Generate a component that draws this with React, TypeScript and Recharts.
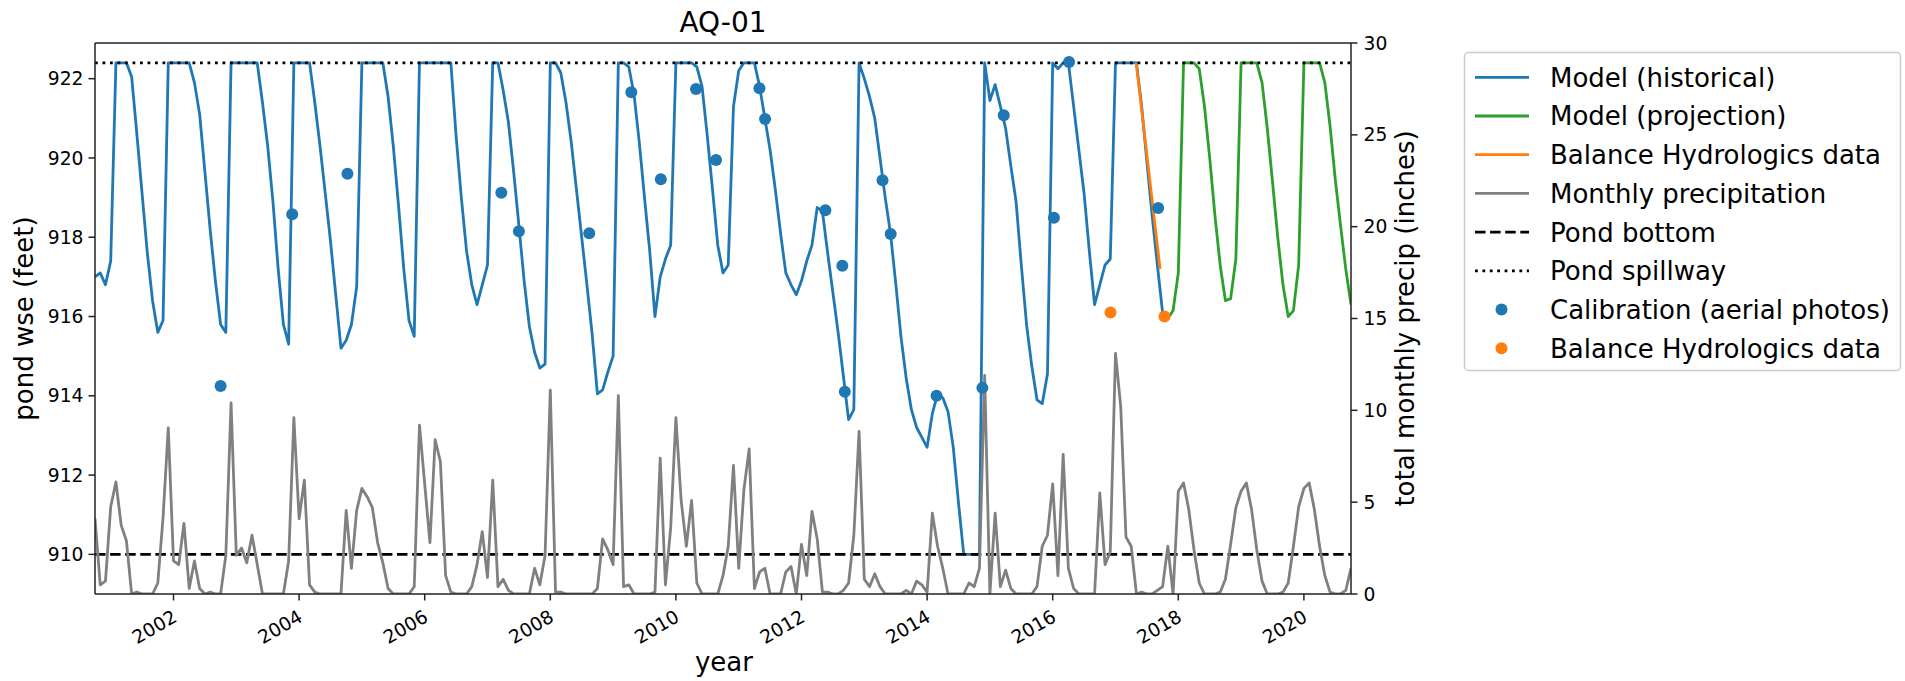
import React from "react";
import { ComposedChart, Line, Scatter, XAxis, YAxis, ReferenceLine } from "recharts";

// ── Data ──────────────────────────────────────────────────────────────────────
// monthly series, first value = October 2000 (decimal year 2000.75)
const START_YEAR = 2000.75;

// pond water-surface elevation, historical model (Oct 2000 – Oct 2017)
const HIST_WSE = [
  917.0, 917.1, 916.8, 917.4, 922.4, 922.4, 922.4, 922.05, 920.6, 919.1,
  917.6, 916.4, 915.6, 915.9, 922.4, 922.4, 922.4, 922.4, 922.4, 921.9,
  921.1, 919.65, 918.2, 916.9, 915.8, 915.6, 922.4, 922.4, 922.4, 922.4,
  922.4, 922.4, 921.4, 920.3, 918.9, 917.2, 915.8, 915.3, 922.4, 922.4,
  922.4, 922.4, 921.4, 920.3, 919.1, 917.9, 916.55, 915.2, 915.4, 915.8,
  916.75, 922.4, 922.4, 922.4, 922.4, 922.4, 921.55, 920.3, 918.8, 917.2,
  915.9, 915.5, 922.4, 922.4, 922.4, 922.4, 922.4, 922.4, 922.4, 920.55,
  919.0, 917.65, 916.8, 916.3, 916.8, 917.3, 922.4, 922.4, 921.7, 920.9,
  919.65, 918.3, 916.9, 915.75, 915.1, 914.7, 914.8, 922.4, 922.4, 922.15,
  921.4, 920.4, 919.2, 918.0, 916.8, 915.55, 914.05, 914.15, 914.6, 915.0,
  922.4, 922.4, 922.3, 921.6, 920.4, 919.0, 917.65, 916.0, 917.0, 917.45,
  917.8, 922.4, 922.4, 922.4, 922.4, 922.3, 921.8, 920.55, 919.2, 917.8,
  917.1, 917.3, 921.3, 922.2, 922.4, 922.4, 922.4, 921.8, 921.0, 920.2,
  919.2, 918.1, 917.1, 916.8, 916.55, 916.9, 917.4, 917.8, 918.75, 918.65,
  917.6, 916.6, 915.6, 914.5, 913.4, 913.65, 922.4, 922.0, 921.55, 921.0,
  920.0, 919.0, 918.1, 916.85, 915.5, 914.45, 913.65, 913.2, 912.95, 912.7,
  913.55, 914.05, 913.95, 913.6, 912.7, 911.3, 910.0, 910.0, 910.0, 910.0,
  922.4, 921.45, 921.85, 921.3, 920.75, 919.8, 918.9, 917.3, 915.8, 914.75,
  913.9, 913.8, 914.55, 922.4, 922.25, 922.4, 922.4, 921.3, 920.2, 919.1,
  917.65, 916.3, 916.8, 917.3, 917.45, 922.4, 922.4, 922.4, 922.4, 922.4,
  921.3, 919.9, 918.55, 917.3, 916.1,
];

// projection starts at month 204 (Oct 2017)
const PROJ_START = 204;
const PROJ_WSE = [
  916.1, 915.95, 916.15, 917.1, 922.4, 922.4, 922.4, 922.25, 921.3, 920.0,
  918.55, 917.3, 916.4, 916.45, 917.45, 922.4, 922.4, 922.4, 922.4, 921.9,
  920.75, 919.4, 918.0, 916.8, 916.0, 916.15, 917.3, 922.4, 922.4, 922.4,
  922.4, 921.9, 920.8, 919.45, 918.3, 917.2, 916.3,
];

// total monthly precipitation (inches)
const PRECIP = [
  4.1, 0.5, 0.7, 4.75, 6.1, 3.75, 2.9, 0, 0.1, 0,
  0, 0, 0.6, 4.15, 9.05, 1.8, 1.6, 3.85, 0.3, 1.8,
  0.3, 0, 0.1, 0, 0, 2.1, 10.4, 2.1, 2.5, 1.7,
  3.2, 1.6, 0, 0, 0, 0, 0, 1.8, 9.6, 4.1,
  6.2, 0.5, 0.1, 0, 0, 0, 0, 0, 4.55, 1.4,
  4.55, 5.75, 5.3, 4.7, 2.8, 1.7, 0.3, 0, 0, 0,
  0, 0.4, 9.2, 6.0, 2.8, 8.4, 7.2, 1.0, 0.1, 0,
  0, 0, 0.4, 1.6, 3.4, 0.9, 6.2, 0.4, 0.8, 0.2,
  0, 0, 0, 0, 1.4, 0.5, 2.1, 11.1, 0.1, 0.1,
  0, 0, 0, 0, 0, 0, 0.3, 3.0, 2.4, 1.6,
  10.8, 0.4, 0.5, 0, 0, 0, 0, 0.1, 7.4, 0.5,
  3.6, 9.6, 5.1, 2.6, 5.1, 0.6, 0, 0, 0, 0,
  1.0, 2.6, 7.0, 1.4, 5.7, 7.9, 0.3, 1.2, 1.4, 0,
  0, 0, 1.2, 1.5, 0, 2.7, 1.0, 4.5, 3.0, 0.1,
  0.1, 0, 0, 0.2, 0.6, 3.2, 8.85, 0.8, 0.4, 1.1,
  0.4, 0, 0, 0, 0, 0.2, 0, 0.7, 0.5, 0.1,
  4.4, 2.6, 1.4, 0, 0, 0, 0, 0.6, 0.4, 1.4,
  11.9, 0, 4.4, 0.4, 1.3, 0.3, 0, 0, 0, 0,
  0.4, 2.6, 3.2, 6.0, 1.0, 7.6, 1.4, 0.3, 0, 0,
  0, 0, 5.5, 1.6, 2.3, 13.1, 10.2, 3.1, 2.6, 0,
  0.1, 0, 0, 0.2, 0.4, 2.6, 0, 5.6, 6.05, 4.6,
  2.4, 0.6, 0, 0, 0, 0.1, 0.8, 2.7, 4.7, 5.6,
  6.05, 4.6, 2.4, 0.7, 0, 0, 0, 0.1, 0.6, 2.6,
  4.75, 5.75, 6.05, 4.6, 2.6, 1.0, 0.1, 0, 0, 0.2,
  1.4,
];

// calibration points (aerial photos)
const CALIB_YEAR = [
  2002.75, 2003.89, 2004.77, 2007.22, 2007.5, 2008.62, 2009.29, 2009.76,
  2010.32, 2010.64, 2011.33, 2011.42, 2012.38, 2012.65, 2012.69, 2013.29,
  2013.42, 2014.15, 2014.88, 2015.22, 2016.02, 2016.26, 2017.68,
];
const CALIB_WSE = [
  914.25, 918.58, 919.6, 919.12, 918.15, 918.1, 921.66, 919.46,
  921.74, 919.95, 921.76, 920.98, 918.68, 917.28, 914.1, 919.44,
  918.08, 914.0, 914.2, 921.08, 918.49, 922.42, 918.74,
];

// Balance Hydrologics data
const BH_YEAR = [2016.92, 2017.78];
const BH_WSE = [916.1, 916.0];
const BH_LINE_YEAR = [2017.33, 2017.71];
const BH_LINE_WSE = [922.4, 917.2];

const POND_BOTTOM = 910;
const POND_SPILLWAY = 922.4;

const YEAR_TICKS = [2002, 2004, 2006, 2008, 2010, 2012, 2014, 2016, 2018, 2020];
const WSE_TICKS = [910, 912, 914, 916, 918, 920, 922];
const PRECIP_TICKS = [0, 5, 10, 15, 20, 25, 30];

// ── Tables for recharts ───────────────────────────────────────────────────────
const histData = HIST_WSE.map((v, i) => ({ t: START_YEAR + i / 12, v }));
const projData = PROJ_WSE.map((v, i) => ({ t: START_YEAR + (PROJ_START + i) / 12, v }));
const precipData = PRECIP.map((p, i) => ({ t: START_YEAR + i / 12, p }));
const calibData = CALIB_YEAR.map((t, i) => ({ t, v: CALIB_WSE[i] }));
const bhData = BH_YEAR.map((t, i) => ({ t, v: BH_WSE[i] }));
const bhLineData = BH_LINE_YEAR.map((t, i) => ({ t, v: BH_LINE_WSE[i] }));

const FONT = "'DejaVu Sans', sans-serif";
const BLUE = "#1f77b4";
const ORANGE = "#ff7f0e";
const GREEN = "#2ca02c";
const GREY = "#808080";
const LW = 2.8;
const TICK_FS = 18.7;

function YearTick(props: any) {
  const { x, payload } = props;
  const ax = x - 2;
  const ay = 609;
  return (
    <text x={ax} y={ay} dy="0.72em" textAnchor="end" transform={`rotate(-30 ${ax} ${ay})`}
      fontSize={TICK_FS} fontFamily={FONT} fill="#000">
      {payload.value}
    </text>
  );
}

const dot = (color: string) => (p: any) => <circle cx={p.cx} cy={p.cy} r={6} fill={color} />;

// ── Legend ────────────────────────────────────────────────────────────────────
const LEGEND = [
  { label: "Model (historical)", kind: "line", color: BLUE },
  { label: "Model (projection)", kind: "line", color: GREEN },
  { label: "Balance Hydrologics data", kind: "line", color: ORANGE },
  { label: "Monthly precipitation", kind: "line", color: GREY },
  { label: "Pond bottom", kind: "dash", color: "#000" },
  { label: "Pond spillway", kind: "dot", color: "#000" },
  { label: "Calibration (aerial photos)", kind: "marker", color: BLUE },
  { label: "Balance Hydrologics data", kind: "marker", color: ORANGE },
];

function Overlay() {
  const rowY = (i: number) => 77.3 + i * 38.7;
  return (
    <svg width={1905} height={681} style={{ position: "absolute", left: 0, top: 0, pointerEvents: "none" }}
      fontFamily={FONT}>
      <text x={723} y={32} textAnchor="middle" fontSize={28} fill="#000">AQ-01</text>
      <text x={724} y={671} textAnchor="middle" fontSize={26} fill="#000">year</text>
      <text transform="translate(33 318.5) rotate(-90)" textAnchor="middle" fontSize={26} fill="#000">
        pond wse (feet)
      </text>
      <text transform="translate(1414 318.5) rotate(-90)" textAnchor="middle" fontSize={26} fill="#000">
        total monthly precip (inches)
      </text>

      <rect x={1464.5} y={52.5} width={436} height={318} rx={4} fill="#fff" stroke="#cccccc" strokeWidth={1.5} />
      {LEGEND.map((it, i) => {
        const y = rowY(i);
        return (
          <g key={i}>
            {it.kind === "line" && <line x1={1475} x2={1529} y1={y} y2={y} stroke={it.color} strokeWidth={LW} />}
            {it.kind === "dash" && (
              <line x1={1475} x2={1529} y1={y} y2={y} stroke={it.color} strokeWidth={LW} strokeDasharray="10.5 4.6" />
            )}
            {it.kind === "dot" && (
              <line x1={1475} x2={1529} y1={y} y2={y} stroke={it.color} strokeWidth={LW} strokeDasharray="2.8 4.6" />
            )}
            {it.kind === "marker" && <circle cx={1501.5} cy={y} r={6} fill={it.color} />}
            <text x={1550} y={y + 9.4} fontSize={26} fill="#000">{it.label}</text>
          </g>
        );
      })}
    </svg>
  );
}

export default function App() {
  const axisLine = { stroke: "#222", strokeWidth: 1.5 };
  const tickLine = { stroke: "#222", strokeWidth: 1.5 };
  return (
    <div style={{ position: "absolute", left: 0, top: 0, width: 1905, height: 681, background: "#fff", fontFamily: FONT }}>
      <ComposedChart width={1905} height={681} margin={{ top: 43, right: 494, bottom: 27, left: 35 }}>
        <XAxis type="number" dataKey="t" domain={[2000.75, 2020.75]} ticks={YEAR_TICKS} allowDataOverflow
          tick={<YearTick />} tickSize={6.5} axisLine={axisLine} tickLine={tickLine} height={60} interval={0} />
        <YAxis yAxisId="wse" type="number" dataKey="v" domain={[909, 922.9]} ticks={WSE_TICKS} allowDataOverflow
          width={60} tickSize={6.5} tickMargin={5} axisLine={axisLine} tickLine={tickLine} interval={0}
          tick={{ fontSize: TICK_FS, fill: "#000", fontFamily: FONT }} />
        <YAxis yAxisId="p" orientation="right" type="number" domain={[0, 30]} ticks={PRECIP_TICKS} allowDataOverflow
          width={60} tickSize={6.5} tickMargin={6} axisLine={axisLine} tickLine={tickLine} interval={0}
          tick={{ fontSize: TICK_FS, fill: "#000", fontFamily: FONT }} />

        <ReferenceLine yAxisId="wse" y={922.9} stroke="#222" strokeWidth={1.5} />

        <Line yAxisId="wse" data={histData} dataKey="v" stroke={BLUE} strokeWidth={LW} dot={false}
          strokeLinejoin="round" isAnimationActive={false} />
        <Line yAxisId="wse" data={projData} dataKey="v" stroke={GREEN} strokeWidth={LW} dot={false}
          strokeLinejoin="round" isAnimationActive={false} />
        <Line yAxisId="wse" data={bhLineData} dataKey="v" stroke={ORANGE} strokeWidth={LW} dot={false}
          isAnimationActive={false} />

        <ReferenceLine yAxisId="wse" y={POND_BOTTOM} stroke="#000" strokeWidth={LW} strokeDasharray="10.5 4.6" />
        <ReferenceLine yAxisId="wse" y={POND_SPILLWAY} stroke="#000" strokeWidth={LW} strokeDasharray="2.8 4.7" />

        <Scatter yAxisId="wse" data={calibData} dataKey="v" fill={BLUE} shape={dot(BLUE)} isAnimationActive={false} />
        <Scatter yAxisId="wse" data={bhData} dataKey="v" fill={ORANGE} shape={dot(ORANGE)} isAnimationActive={false} />

        <Line yAxisId="p" data={precipData} dataKey="p" stroke={GREY} strokeWidth={LW} dot={false}
          strokeLinejoin="round" isAnimationActive={false} />
      </ComposedChart>
      <Overlay />
    </div>
  );
}
